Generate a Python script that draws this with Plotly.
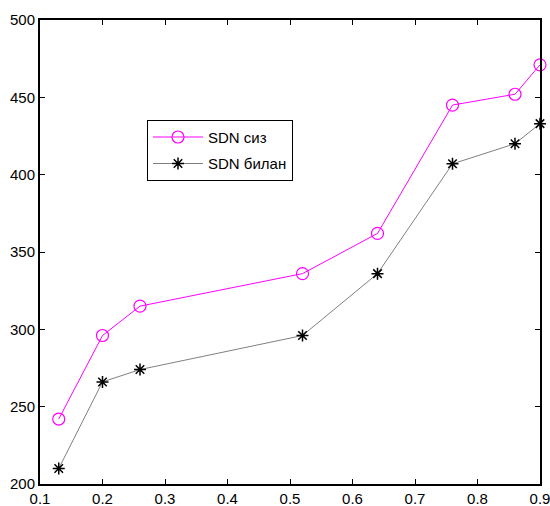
import plotly.graph_objects as go

x_vals = [0.13, 0.20, 0.26, 0.52, 0.64, 0.76, 0.86, 0.90]
sdn_siz = [242, 296, 315, 336, 362, 445, 452, 471]
sdn_bilan = [210, 266, 274, 296, 336, 407, 420, 433]
names = ["SDN сиз", "SDN билан"]
x_ticks = [0.1, 0.2, 0.3, 0.4, 0.5, 0.6, 0.7, 0.8, 0.9]
y_ticks = [200, 250, 300, 350, 400, 450, 500]

fig = go.Figure()
fig.add_trace(go.Scatter(
    x=x_vals, y=sdn_siz, name=names[0], mode="lines+markers",
    line=dict(color="#FF00FF", width=1),
    marker=dict(symbol="circle-open", size=12, color="#FF00FF", line=dict(width=1.2, color="#FF00FF")),
    legendgroup="a", cliponaxis=False,
))
fig.add_trace(go.Scatter(
    x=x_vals, y=sdn_bilan, name=names[1], mode="lines+markers",
    line=dict(color="#808080", width=1),
    marker=dict(symbol="asterisk-open", size=10, color="black", line=dict(width=1.5, color="black")),
    legendgroup="b", cliponaxis=False,
))

axis_common = dict(
    showline=True, linecolor="black", linewidth=2, mirror="ticks",
    ticks="inside", ticklen=5, tickcolor="black", tickwidth=1,
    showgrid=False, zeroline=False, automargin=False, ticklabeloverflow="allow",
    tickfont=dict(family="Arial, Liberation Sans", size=15, color="black"),
)
fig.update_xaxes(range=[0.1, 0.9], tickvals=x_ticks, ticktext=[f"{v:g}" for v in x_ticks], **axis_common)
fig.update_yaxes(range=[200, 500], tickvals=y_ticks, **axis_common)

fig.update_layout(
    width=550, height=506,
    margin=dict(l=40, r=10, t=20, b=22),
    plot_bgcolor="white", paper_bgcolor="white",
    font=dict(family="Arial, Liberation Sans", size=15, color="black"),
    legend=dict(
        x=0.214, y=0.785, xanchor="left", yanchor="top",
        bgcolor="white", bordercolor="black", borderwidth=1,
        font=dict(family="Arial, Liberation Sans", size=15, color="black"),
        traceorder="grouped", tracegroupgap=4, itemwidth=50,
    ),
    showlegend=True,
)

fig.write_html("out.html")
